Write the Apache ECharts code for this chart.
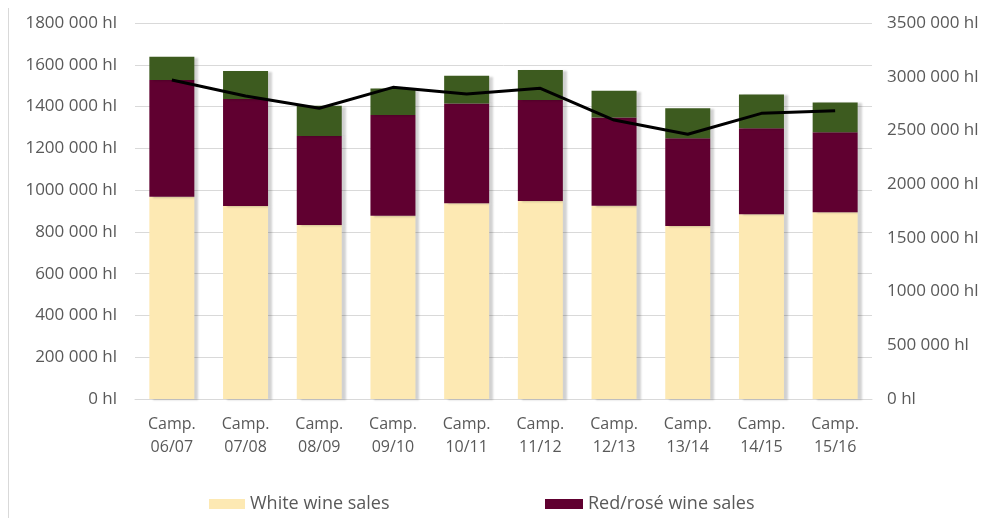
<!DOCTYPE html>
<html>
<head>
<meta charset="utf-8">
<script src="https://cdn.jsdelivr.net/npm/echarts@6/dist/echarts.min.js"></script>
<style>
html,body{margin:0;padding:0;background:#fff;}
#c{width:982px;height:518px;}
</style>
</head>
<body>
<div id="c"></div>
<script>
var categories = ['Camp.\n06/07','Camp.\n07/08','Camp.\n08/09','Camp.\n09/10','Camp.\n10/11','Camp.\n11/12','Camp.\n12/13','Camp.\n13/14','Camp.\n14/15','Camp.\n15/16'];
var whiteSales = [968000, 924000, 833000, 877000, 937000, 948000, 925000, 828000, 884000, 894000];
var redSales   = [559000, 512000, 426000, 483000, 478000, 483000, 423000, 420000, 412000, 383000];
var otherSales = [112000, 134000, 145000, 127000, 133000, 144000, 128000, 144000, 162000, 143000];
var lineValues = [2969000, 2820000, 2706000, 2901000, 2839000, 2892000, 2597000, 2464000, 2659000, 2684000];
var leftMax = 1800000, leftStep = 200000;
var rightMax = 3500000, rightStep = 500000;

function fmt(v){
  if (v === 0) return '0 hl';
  var th = Math.floor(v/1000), r = v % 1000;
  return th + ' ' + ('00' + r).slice(-3) + ' hl';
}
var txt = '#595959';
var font = '"Open Sans", sans-serif';
var shadow = {shadowColor:'rgba(0,0,0,0.18)', shadowBlur:2, shadowOffsetX:4, shadowOffsetY:1};

var chart = echarts.init(document.getElementById('c'));
chart.setOption({
  animation:false,
  backgroundColor:'#fff',
  textStyle:{fontFamily:font},
  grid:{left:135, right:110, top:23, bottom:119},
  graphic:[{type:'line', shape:{x1:8.5,y1:8,x2:8.5,y2:518}, style:{stroke:'#D9D9D9', lineWidth:1}}],
  legend:[
    {left:204, top:490, itemWidth:36, itemHeight:10, icon:'rect', itemGap:5,
     textStyle:{color:txt, fontSize:18, fontFamily:font}, data:['White wine sales']},
    {left:540, top:490, itemWidth:38, itemHeight:10, icon:'rect',
     textStyle:{color:txt, fontSize:18, fontFamily:font}, data:['Red/rosé wine sales']}
  ],
  xAxis:{type:'category', data:categories,
    axisLine:{lineStyle:{color:'#D9D9D9'}}, axisTick:{show:false},
    axisLabel:{color:txt, fontSize:16, lineHeight:23, margin:14, fontFamily:font}},
  yAxis:[
    {type:'value', min:0, max:leftMax, interval:leftStep,
     axisLabel:{formatter:fmt, color:txt, fontSize:17, margin:18, fontFamily:font},
     splitLine:{lineStyle:{color:'#D9D9D9'}}, axisLine:{show:false}, axisTick:{show:false}},
    {type:'value', min:0, max:rightMax, interval:rightStep,
     axisLabel:{formatter:fmt, color:txt, fontSize:17, margin:15, fontFamily:font},
     splitLine:{show:false}, axisLine:{show:false}, axisTick:{show:false}}
  ],
  series:[
    {name:'White wine sales', type:'bar', stack:'s', data:whiteSales, barWidth:45,
     itemStyle:Object.assign({color:'#FDE9B3'}, shadow)},
    {name:'Red/rosé wine sales', type:'bar', stack:'s', data:redSales,
     itemStyle:Object.assign({color:'#600030'}, shadow)},
    {name:'Other wine sales', type:'bar', stack:'s', data:otherSales,
     itemStyle:Object.assign({color:'#3D5B1F'}, shadow)},
    {name:'Total', type:'line', yAxisIndex:1, data:lineValues, symbol:'none',
     lineStyle:{color:'#000', width:3}, z:5}
  ]
});
</script>
</body>
</html>
